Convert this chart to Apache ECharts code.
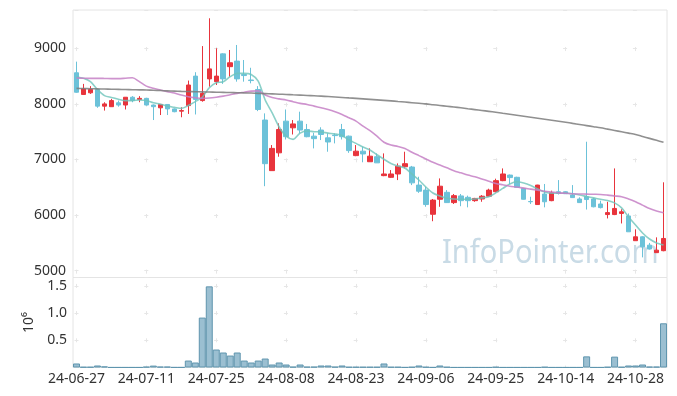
<!DOCTYPE html>
<html>
<head>
<meta charset="utf-8">
<script src="https://cdn.jsdelivr.net/npm/echarts@6/dist/echarts.min.js"></script>
<style>
html,body{margin:0;padding:0;background:#fff;}
#chart{width:677px;height:396px;}
</style>
</head>
<body>
<div id="chart"></div>
<script>
const dates = ['24-06-27','24-06-28','24-07-01','24-07-02','24-07-03','24-07-04','24-07-05','24-07-08','24-07-09','24-07-10',
'24-07-11','24-07-12','24-07-15','24-07-16','24-07-17','24-07-18','24-07-19','24-07-22','24-07-23','24-07-24',
'24-07-25','24-07-26','24-07-29','24-07-30','24-07-31','24-08-01','24-08-02','24-08-05','24-08-06','24-08-07',
'24-08-08','24-08-09','24-08-12','24-08-13','24-08-14','24-08-16','24-08-19','24-08-20','24-08-21','24-08-22',
'24-08-23','24-08-26','24-08-27','24-08-28','24-08-29','24-08-30','24-09-02','24-09-03','24-09-04','24-09-05',
'24-09-06','24-09-09','24-09-10','24-09-11','24-09-12','24-09-13','24-09-19','24-09-20','24-09-23','24-09-24',
'24-09-25','24-09-26','24-09-27','24-09-30','24-10-02','24-10-04','24-10-07','24-10-08','24-10-10','24-10-11',
'24-10-14','24-10-15','24-10-16','24-10-17','24-10-18','24-10-21','24-10-22','24-10-23','24-10-24','24-10-25',
'24-10-28','24-10-29','24-10-30','24-10-31','24-11-01'];

const open = [8560,8170,8200,8260,7960,7950,8020,7980,8120,8080,
8100,7980,7930,7990,7910,7870,7970,8500,8060,8450,
8400,8900,8670,8770,8530,8430,8260,7710,6800,7120,
7690,7570,7690,7540,7420,7530,7390,7440,7540,7420,
7070,7150,6960,7050,6710,6680,6740,6870,6865,6540,
6450,6015,6285,6410,6225,6345,6320,6260,6290,6340,
6420,6620,6720,6680,6480,6245,6190,6380,6260,6420,
6420,6360,6290,6330,6290,6200,6010,6010,6030,5985,
5540,5610,5460,5325,5360];
const close = [8210,8270,8260,7960,8000,8060,7980,8120,8060,8100,
7980,7950,7990,7910,7860,7880,8340,8080,8190,8630,
8500,8450,8740,8450,8510,8420,7900,6925,7200,7540,
7410,7640,7530,7410,7375,7450,7315,7430,7410,7160,
7150,7100,7060,6940,6740,6740,6880,6925,6580,6430,
6190,6270,6520,6225,6350,6260,6260,6300,6340,6450,
6620,6740,6675,6500,6285,6240,6540,6240,6400,6390,
6385,6315,6225,6280,6150,6135,6045,6120,6060,5700,
5610,5430,5390,5370,5580];
const low = [8200,8160,8180,7930,7880,7950,7950,7900,8030,8030,
7970,7710,7800,7800,7850,7760,7820,7810,8040,8310,
8340,8360,8490,8400,8400,8370,7870,6520,6800,7050,
7360,7450,7470,7400,7200,7350,7140,7290,7360,7120,
7060,6950,6960,6940,6700,6670,6630,6840,6540,6400,
6150,5890,6150,6220,6200,6160,6140,6240,6240,6330,
6410,6610,6560,6500,6280,6200,6185,6140,6250,6370,
6380,6310,6220,6100,6140,6120,5940,6000,5850,5700,
5540,5240,5380,5320,5350];
const high = [8760,8360,8320,8270,8030,8090,8060,8120,8140,8140,
8110,7990,8000,7990,7920,7940,8420,8570,9040,9540,
9000,8910,8970,9060,8790,8650,8320,7830,7260,7650,
7900,7710,7860,7640,7480,7580,7470,7470,7640,7430,
7260,7230,7200,7110,7110,6810,6930,7140,6885,6690,
6510,6290,6660,6450,6380,6380,6350,6310,6360,6475,
6655,6840,6730,6690,6490,6330,6545,6560,6440,6630,
6430,6540,6320,7320,6310,6260,6240,6840,6105,6030,
5745,5620,5500,5600,6590];

const volume = [74000,10000,10000,37000,20000,2000,2000,2000,2000,2000,
14000,35000,15000,15000,3000,3000,128000,92000,919000,1494000,
331000,276000,220000,276000,128000,92000,128000,165000,55000,92000,
55000,14000,55000,14000,14000,37000,37000,14000,37000,10000,
10000,10000,10000,10000,74000,10000,10000,3000,10000,37000,
10000,3000,37000,10000,2000,2000,2000,2000,2000,2000,
10000,2000,2000,2000,2000,2000,2000,10000,2000,2000,
2000,2000,2000,205000,2000,2000,10000,200000,10000,37000,
37000,55000,15000,15000,814000];

const ma5 = [8490,8460,8400,8260,8150,8115,8085,8060,8060,8070,
8060,8020,7995,7960,7940,7920,7970,8040,8120,8290,
8380,8400,8490,8550,8550,8530,8410,8070,7840,7585,
7420,7363,7475,7512,7500,7495,7475,7460,7430,7350,
7290,7225,7170,7086,7004,6928,6883,6847,6740,6631,
6505,6397,6344,6302,6290,6284,6284,6290,6310,6330,
6400,6480,6560,6600,6577,6532,6470,6415,6392,6392,
6397,6383,6362,6335,6310,6284,6263,6220,6130,5966,
5822,5678,5570,5500,5462];
const ma20 = [8465,8462,8460,8460,8458,8455,8455,8462,8470,8400,
8320,8280,8250,8220,8195,8160,8130,8110,8100,8105,
8120,8140,8165,8190,8210,8230,8235,8160,8115,8090,
8070,8040,8010,7990,7960,7930,7900,7860,7810,7750,
7690,7600,7520,7420,7310,7260,7235,7200,7130,7070,
7010,6950,6900,6850,6800,6760,6720,6690,6650,6610,
6570,6545,6520,6505,6485,6468,6450,6430,6415,6400,
6393,6385,6380,6378,6375,6372,6360,6345,6330,6290,
6240,6180,6120,6075,6043];
const ma120 = [8280,8277,8274,8271,8268,8265,8262,8259,8256,8253,
8250,8245,8240,8235,8230,8225,8222,8219,8216,8213,
8210,8207,8204,8201,8198,8195,8190,8185,8180,8175,
8170,8164,8158,8152,8146,8140,8132,8124,8116,8108,
8100,8091,8082,8073,8064,8055,8044,8033,8022,8011,
8000,7986,7972,7958,7944,7930,7914,7898,7882,7866,
7850,7832,7814,7796,7778,7760,7742,7724,7706,7688,
7670,7650,7630,7610,7590,7570,7546,7522,7498,7474,
7450,7415,7380,7345,7310];

const watermark = 'InfoPointer.com';
const volumeAxisName = '10\u2076';

const candleData = dates.map((d, i) => [open[i], close[i], low[i], high[i]]);

const FONT = 'Noto Sans';
const TXT = '#333';
const CROSS = '#e6e6e6';

const chart = echarts.init(document.getElementById('chart'), null, {renderer: 'canvas', width: 677, height: 396});
chart.setOption({
  animation: false,
  backgroundColor: '#fff',
  textStyle: {fontFamily: FONT},
  grid: [
    {left: 73, right: 10, top: 10, height: 267.5, show: true, borderColor: '#e4e4e4', borderWidth: 1, backgroundColor: 'transparent'},
    {left: 73, right: 10, top: 277.5, height: 90, show: true, borderColor: '#e4e4e4', borderWidth: 1, backgroundColor: 'transparent'}
  ],
  graphic: [{
    type: 'text', x: 442, y: 254, z: 0, scaleX: 0.88,
    style: {text: watermark, font: '33px "Noto Sans"', fill: '#c9dbe6', textVerticalAlign: 'middle'}
  }],
  xAxis: [
    {type: 'category', gridIndex: 0, data: dates, boundaryGap: true,
     axisLine: {show: false}, axisLabel: {show: false},
     axisTick: {show: true, inside: true, alignWithLabel: true, interval: 9, length: 267.5,
       lineStyle: {color: CROSS, width: 1, type: [4, 51.65], dashOffset: 51.8}},
     splitLine: {show: false}},
    {type: 'category', gridIndex: 1, data: dates, boundaryGap: true,
     axisLine: {show: false},
     axisLabel: {interval: 9, fontSize: 14, color: TXT, margin: 5, fontFamily: FONT},
     axisTick: {show: true, inside: true, alignWithLabel: true, interval: 9, length: 90,
       lineStyle: {color: CROSS, width: 1, type: [4, 23.2], dashOffset: 2}},
     splitLine: {show: false}}
  ],
  yAxis: [
    {type: 'value', gridIndex: 0, min: 4878, max: 9689, splitNumber: 5, scale: true,
     axisLine: {show: false}, axisTick: {show: false},
     axisLabel: {fontSize: 14, color: TXT, margin: 7, showMinLabel: false, showMaxLabel: false, fontFamily: FONT,
       formatter: v => String(Math.round(v))},
     splitLine: {show: true, lineStyle: {color: CROSS, width: 1, type: [4, 65.8], dashOffset: 68.3}}},
    {type: 'value', gridIndex: 1, min: 0, max: 1657000, interval: 500000,
     axisLine: {show: false}, axisTick: {show: false},
     name: volumeAxisName, nameLocation: 'middle', nameRotate: 90, nameGap: 37,
     nameTextStyle: {fontSize: 14, color: TXT, fontFamily: FONT},
     axisLabel: {fontSize: 14, color: TXT, margin: 6, showMinLabel: false, showMaxLabel: false, fontFamily: FONT,
       formatter: v => (v / 1e6).toFixed(1)},
     splitLine: {show: true, lineStyle: {color: CROSS, width: 1, type: [4, 65.8], dashOffset: 68.3}}}
  ],
  series: [
    {type: 'candlestick', xAxisIndex: 0, yAxisIndex: 0, data: candleData, barWidth: 5,
     itemStyle: {color: '#e8343c', color0: '#6cc2d9', borderColor: '#e8343c', borderColor0: '#6cc2d9', borderWidth: 1}},
    {type: 'line', xAxisIndex: 0, yAxisIndex: 0, data: ma5, smooth: 0.3, symbol: 'none',
     lineStyle: {color: 'rgba(110,196,186,0.8)', width: 1.6}},
    {type: 'line', xAxisIndex: 0, yAxisIndex: 0, data: ma20, smooth: 0.3, symbol: 'none',
     lineStyle: {color: 'rgba(198,128,198,0.85)', width: 1.6}},
    {type: 'line', xAxisIndex: 0, yAxisIndex: 0, data: ma120, smooth: 0.3, symbol: 'none',
     lineStyle: {color: 'rgba(125,125,125,0.85)', width: 1.6}},
    {type: 'bar', xAxisIndex: 1, yAxisIndex: 1, data: volume, barCategoryGap: '0%',
     itemStyle: {color: 'rgba(122,170,194,0.75)', borderColor: '#5f95ae', borderWidth: 1}}
  ]
});
</script>
</body>
</html>
